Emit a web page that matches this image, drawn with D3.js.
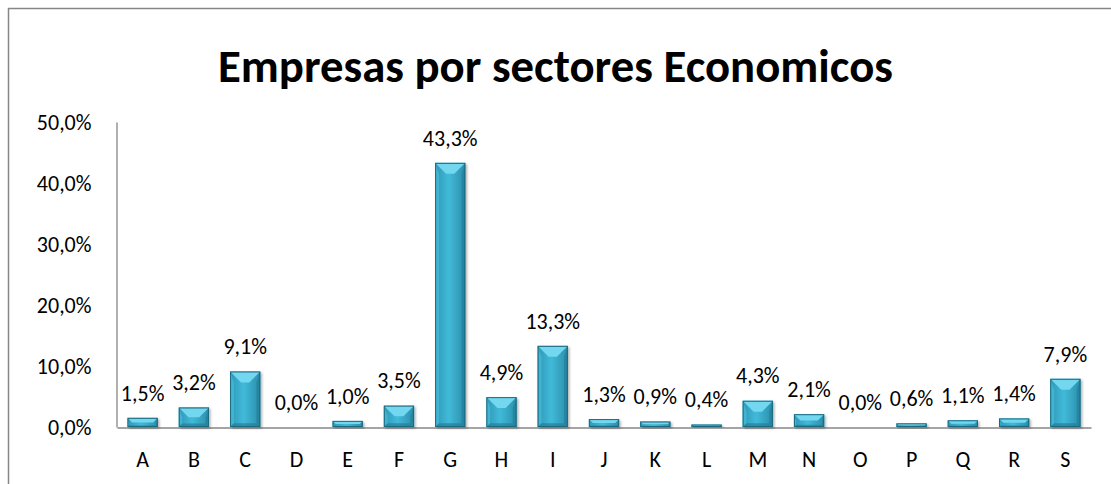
<!DOCTYPE html>
<html>
<head>
<meta charset="utf-8">
<script src="https://cdn.jsdelivr.net/npm/d3@7"></script>
<style>
  body { margin: 0; background: #fff; }
  svg { display: block; font-family: Calibri, Carlito, 'Open Sans', sans-serif; }
</style>
</head>
<body>
<svg id="chart" width="1111" height="484"></svg>
<script>
const sectors = ['A', 'B', 'C', 'D', 'E', 'F', 'G', 'H', 'I', 'J', 'K', 'L', 'M', 'N', 'O', 'P', 'Q', 'R', 'S']
const shares = [1.5, 3.2, 9.1, 0.0, 1.0, 3.5, 43.3, 4.9, 13.3, 1.3, 0.9, 0.4, 4.3, 2.1, 0.0, 0.6, 1.1, 1.4, 7.9]
const yTicks = [0, 10, 20, 30, 40, 50]
const title = 'Empresas por sectores Economicos'

const svg = d3.select('#chart')
const fmt = v => d3.format('.1f')(v).replace('.', ',') + '%'
const fontSize = 22

const plot = { left: 117, right: 1091, top: 122, bottom: 427 }

// outer chart border (runs off the right and bottom of the picture)
svg.append('rect')
  .attr('x', 8.5).attr('y', 8.5)
  .attr('width', 1120).attr('height', 500)
  .attr('fill', 'none')
  .attr('stroke', '#868686')
  .attr('stroke-width', 1.5)

const x = d3.scaleBand()
  .domain(sectors)
  .range([plot.left, plot.right])
  .paddingInner(0.41)
  .paddingOuter(0.205)

const y = d3.scaleLinear()
  .domain([0, 50])
  .range([plot.bottom, plot.top])

// title, fitted to the width it takes in the reference
const titleEl = svg.append('text')
  .attr('x', 555.5).attr('y', 82)
  .attr('text-anchor', 'middle')
  .attr('font-weight', 'bold')
  .attr('font-size', 36)
  .attr('fill', '#000')
  .text(title)
const tw = titleEl.node().getComputedTextLength()
titleEl.attr('font-size', 36 * 675 / tw)

// y axis
const yAxis = d3.axisLeft(y)
  .tickValues(yTicks)
  .tickSize(0)
  .tickPadding(25)
  .tickFormat(fmt)

svg.append('g')
  .attr('transform', `translate(${plot.left - 0.5},0)`)
  .call(yAxis)
  .attr('font-family', null)
  .attr('font-size', fontSize)
  .call(g => g.select('.domain').attr('stroke', '#868686').attr('stroke-width', 1.3))
  .call(g => g.selectAll('text').attr('fill', '#000'))

// x axis
const xAxis = d3.axisBottom(x).tickSize(0).tickPadding(24)
svg.append('g')
  .attr('transform', `translate(0,${plot.bottom + 0.5})`)
  .call(xAxis)
  .attr('font-family', null)
  .attr('font-size', fontSize)
  .call(g => g.select('.domain').attr('stroke', '#868686').attr('stroke-width', 1.3))
  .call(g => g.selectAll('text').attr('fill', '#000'))

// bevelled bars
const defs = svg.append('defs')
const face = defs.append('linearGradient').attr('id', 'face')
  .attr('x1', 0).attr('x2', 1).attr('y1', 0).attr('y2', 0)
face.append('stop').attr('offset', 0).attr('stop-color', '#2f98b6')
face.append('stop').attr('offset', 0.45).attr('stop-color', '#41bad9')
face.append('stop').attr('offset', 1).attr('stop-color', '#2b8eab')

defs.append('filter').attr('id', 'shadow')
  .attr('x', '-20%').attr('y', '-20%').attr('width', '150%').attr('height', '150%')
  .append('feDropShadow')
  .attr('dx', 1.5).attr('dy', 1.5).attr('stdDeviation', 1.2)
  .attr('flood-color', '#000').attr('flood-opacity', 0.3)

const bars = svg.append('g')
  .selectAll('g')
  .data(sectors.map((s, i) => ({ s, v: shares[i] })).filter(d => d.v > 0))
  .join('g')
  .attr('transform', d => `translate(${x(d.s)},${y(d.v)})`)
  .attr('filter', 'url(#shadow)')

const w = x.bandwidth()
bars.each(function (d) {
  const g = d3.select(this)
  const h = y(0) - y(d.v)
  const b = Math.min(11, h / 2, w / 2)
  g.append('rect').attr('width', w).attr('height', h).attr('fill', 'url(#face)')
  // top chamfer
  g.append('path')
    .attr('d', `M0,0H${w}L${w - b},${b}H${b}Z`)
    .attr('fill', '#72d7ef')
  // left and right sides
  g.append('path')
    .attr('d', `M0,0L${b * 0.35},${b}V${h - b * 0.35}L0,${h}Z`)
    .attr('fill', '#4cc3df').attr('opacity', 0.6)
  g.append('path')
    .attr('d', `M${w},0L${w - b * 0.35},${b}V${h - b * 0.35}L${w},${h}Z`)
    .attr('fill', '#1f7891').attr('opacity', 0.5)
  // bottom chamfer
  g.append('path')
    .attr('d', `M0,${h}H${w}L${w - b * 0.35},${h - b * 0.35}H${b * 0.35}Z`)
    .attr('fill', '#237f99').attr('opacity', 0.7)
  g.append('rect').attr('x', 0.5).attr('y', 0.5)
    .attr('width', w - 1).attr('height', Math.max(h - 1, 0.5))
    .attr('fill', 'none').attr('stroke', '#1d6a80').attr('stroke-width', 1)
})

// data labels
svg.append('g')
  .selectAll('text')
  .data(sectors.map((s, i) => ({ s, v: shares[i] })))
  .join('text')
  .attr('x', d => x(d.s) + w / 2)
  .attr('y', d => y(d.v) - 25)
  .attr('dy', '0.35em')
  .attr('text-anchor', 'middle')
  .attr('font-size', fontSize)
  .attr('fill', '#000')
  .text(d => fmt(d.v))
</script>
</body>
</html>
